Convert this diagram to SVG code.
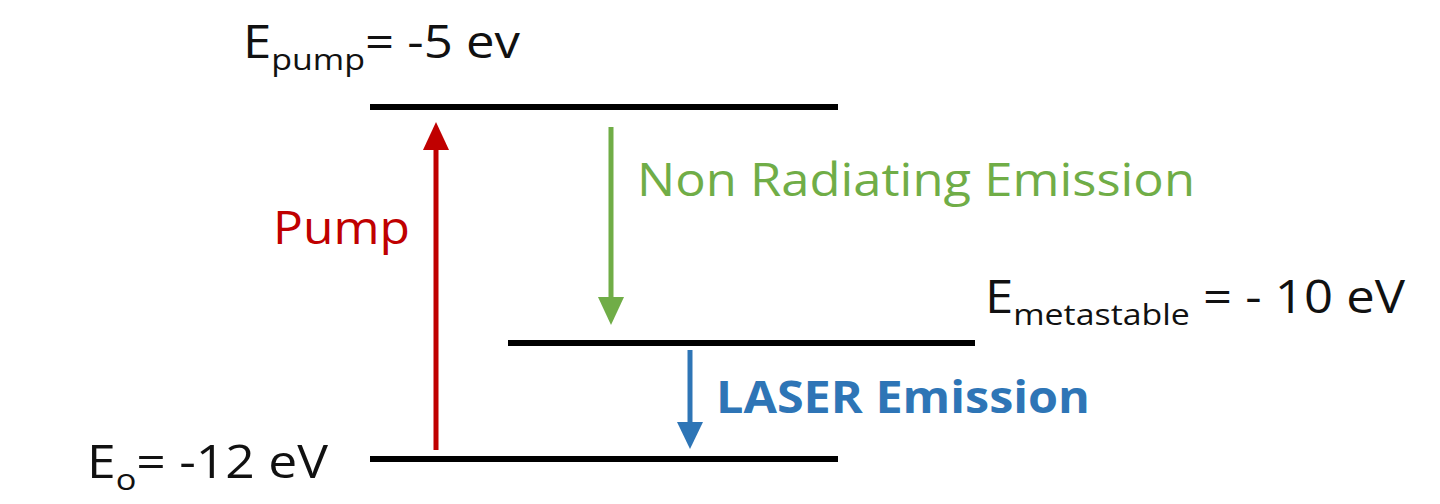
<svg xmlns="http://www.w3.org/2000/svg" width="1440" height="504" viewBox="0 0 1440 504">
<style>
.t{font-family:"Open Sans","Liberation Sans",sans-serif;font-size:45px;fill:#111}
.s{font-size:30px}
.lv{stroke:#000;stroke-width:6}
</style>
<rect width="1440" height="504" fill="#fff"/>
<g id="level-pump"><line class="lv" x1="370" y1="107" x2="838" y2="107"/><text class="t" x="243" y="58" textLength="277" lengthAdjust="spacingAndGlyphs">E<tspan class="s" dy="12">pump</tspan><tspan dy="-12">= -5 ev</tspan></text></g>
<g id="level-meta"><line class="lv" x1="508" y1="343" x2="975" y2="343"/><text class="t" x="985" y="313" textLength="420" lengthAdjust="spacingAndGlyphs">E<tspan class="s" dy="12">metastable</tspan><tspan dy="-12"> = - 10 eV</tspan></text></g>
<g id="level-ground"><line class="lv" x1="370" y1="459" x2="838" y2="459"/><text class="t" x="87" y="478" textLength="241" lengthAdjust="spacingAndGlyphs">E<tspan class="s" dy="12">o</tspan><tspan dy="-12">= -12 eV</tspan></text></g>
<g id="connectors">
<line x1="436" y1="450" x2="436" y2="145" stroke="#c00000" stroke-width="5"/><polygon points="423,150 449,150 436,122" fill="#c00000"/>
<line x1="611" y1="127" x2="611" y2="300" stroke="#70ad47" stroke-width="5"/><polygon points="598,297 624,297 611,325" fill="#70ad47"/>
<line x1="690" y1="350" x2="690" y2="425" stroke="#2e75b6" stroke-width="5"/><polygon points="677,422 703,422 690,449" fill="#2e75b6"/>
</g>
<text class="t" x="273" y="244" textLength="137" lengthAdjust="spacingAndGlyphs" style="fill:#c00000">Pump</text>
<text class="t" x="637" y="196" textLength="558" lengthAdjust="spacingAndGlyphs" style="fill:#70ad47">Non Radiating Emission</text>
<text class="t" x="716" y="413" textLength="374" lengthAdjust="spacingAndGlyphs" style="fill:#2e75b6;font-weight:bold">LASER Emission</text>
</svg>
